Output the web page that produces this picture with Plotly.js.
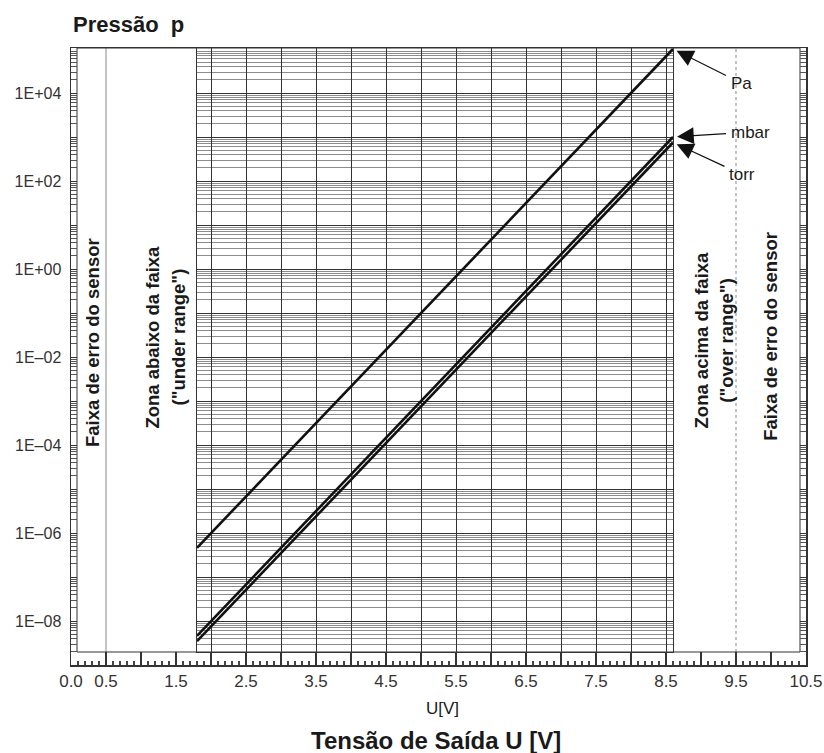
<!DOCTYPE html>
<html><head><meta charset="utf-8">
<script src="https://cdn.plot.ly/plotly-3.0.1.min.js"></script>
<style>html,body{margin:0;padding:0;background:#fff}</style>
</head><body><div id="chart" style="width:824px;height:753px"></div>
<script>
// ---- data ----
const voltage = [1.8, 8.6];
const pressurePa = [4.6e-7, 1.0e5];
const pressureMbar = [4.6e-9, 1.0e3];
const pressureTorr = [3.5e-9, 7.5e2];
const seriesNames = ['Pa', 'mbar', 'torr'];
const xTickVals = [0, 0.5, 1, 1.5, 2, 2.5, 3, 3.5, 4, 4.5, 5, 5.5, 6, 6.5, 7, 7.5, 8, 8.5, 9, 9.5, 10, 10.5];
const xTickText = ['0.0', '0.5', '', '1.5', '', '2.5', '', '3.5', '', '4.5', '', '5.5', '', '6.5', '', '7.5', '', '8.5', '', '9.5', '', '10.5'];
const yTickVals = [1e-9, 1e-8, 1e-7, 1e-6, 1e-5, 1e-4, 1e-3, 1e-2, 1e-1, 1e0, 1e1, 1e2, 1e3, 1e4, 1e5];
const yTickText = ['', '1E\u201308', '', '1E\u201306', '', '1E\u201304', '', '1E\u201302', '', '1E+00', '', '1E+02', '', '1E+04', ''];
const zoneBounds = [0, 0.5, 1.8, 8.6, 9.5, 10.5];
const gridXVals = [2, 2.5, 3, 3.5, 4, 4.5, 5, 5.5, 6, 6.5, 7, 7.5, 8, 8.5];
const zoneLabels = ['Faixa de erro do sensor', 'Zona abaixo da faixa', '("under range")',
                    'Zona acima da faixa', '("over range")', 'Faixa de erro do sensor'];

const FONT = 'Liberation Sans, Arial, Helvetica, sans-serif';
const INK = '#1a1a1a';

// frame geometry (pixels)
const PLOT_W = 735, PLOT_H = 617;        // 70 px per volt, 44 px per decade
const INNER_PX = 13;                     // inner frame above the x axis
const X_RANGE = [zoneBounds[0], zoneBounds[5]];
const Y_RANGE = [-9, -9 + PLOT_H / 44];
const span = X_RANGE[1] - X_RANGE[0];
const innerBottom = INNER_PX / PLOT_H;
const y2Low = Y_RANGE[0] + INNER_PX / 44;

const seriesY = [pressurePa, pressureMbar, pressureTorr];
const traces = seriesY.map((ys, i) => ({
  x: voltage, y: ys, name: seriesNames[i], type: 'scatter', mode: 'lines',
  xaxis: 'x2', yaxis: 'y2',
  line: {color: '#111', width: 2.6}, showlegend: false, hoverinfo: 'x+y+name', cliponaxis: false
}));

const shapes = [
  {type: 'line', xref: 'x', yref: 'y domain', x0: zoneBounds[1], x1: zoneBounds[1], y0: innerBottom, y1: 1,
   line: {color: '#8a8a8a', width: 1}, layer: 'below'},
  {type: 'line', xref: 'x', yref: 'y domain', x0: zoneBounds[4], x1: zoneBounds[4], y0: innerBottom, y1: 1,
   line: {color: '#8a8a8a', width: 1, dash: 'dot'}, layer: 'below'},
  {type: 'rect', xref: 'x domain', yref: 'y domain', x0: 6 / PLOT_W, x1: 1 - 6 / PLOT_W, y0: innerBottom, y1: 1,
   line: {color: '#333', width: 1}, fillcolor: 'rgba(0,0,0,0)', layer: 'below'}
];

const lastIdx = voltage.length - 1;
const arrowCommon = {xref: 'x2', yref: 'y2', showarrow: true, arrowhead: 2, arrowsize: 2.8,
  arrowwidth: 1.2, arrowcolor: '#111', standoff: 4, borderpad: 4,
  font: {family: FONT, size: 17, color: INK}};
const annotations = [
  Object.assign({}, arrowCommon, {text: seriesNames[0], x: voltage[lastIdx], y: Math.log10(pressurePa[lastIdx]), ax: 68, ay: 34}),
  Object.assign({}, arrowCommon, {text: seriesNames[1], x: voltage[lastIdx], y: Math.log10(pressureMbar[lastIdx]), ax: 77, ay: -5}),
  Object.assign({}, arrowCommon, {text: seriesNames[2], x: voltage[lastIdx], y: Math.log10(pressureTorr[lastIdx]), ax: 69, ay: 32})
];
const vLabelX = [0.31, 1.16, 1.53, 9.0, 9.36, 10.0];
const vLabelY = [0.523, 0.531, 0.531, 0.526, 0.526, 0.532];
zoneLabels.forEach((t, i) => annotations.push({
  text: t, xref: 'x', yref: 'paper', x: vLabelX[i], y: vLabelY[i], textangle: -90, showarrow: false,
  xanchor: 'center', yanchor: 'middle',
  font: {family: FONT, size: 18.5, color: INK, weight: 700}
}));
annotations.push({text: 'U[V]', xref: 'paper', yref: 'paper', x: 0.506, y: -0.07, showarrow: false,
  xanchor: 'center', yanchor: 'middle', font: {family: FONT, size: 17, color: INK}});
annotations.push({text: 'Tensão de Saída U [V]', xref: 'paper', yref: 'paper', x: 0.497, y: -0.123, showarrow: false,
  xanchor: 'center', yanchor: 'middle', font: {family: FONT, size: 24, color: INK, weight: 700}});

const layout = {
  width: 824, height: 753,
  margin: {l: 71, r: 824 - 71 - PLOT_W, t: 48, b: 753 - 48 - PLOT_H},
  paper_bgcolor: '#fff', plot_bgcolor: 'rgba(0,0,0,0)',
  font: {family: FONT, color: INK},
  title: {text: 'Pressão\u00a0\u00a0p', xref: 'container', yref: 'container', x: 73 / 824, xanchor: 'left',
          y: 1 - 24 / 753, yanchor: 'middle', font: {family: FONT, size: 22, color: INK, weight: 700}},
  xaxis: {
    range: X_RANGE, tickmode: 'array', tickvals: xTickVals, ticktext: xTickText,
    ticks: 'inside', ticklen: 13, tickwidth: 1.2, tickcolor: '#333',
    showline: true, linecolor: '#333', linewidth: 1.5, mirror: true,
    showgrid: false, zeroline: false,
    tickfont: {family: FONT, size: 17, color: '#333'},
    minor: {dtick: 0.1, tick0: 0, ticks: 'inside', ticklen: 4, tickcolor: '#444', showgrid: false}
  },
  yaxis: {
    type: 'log', range: Y_RANGE, tickmode: 'array', tickvals: yTickVals, ticktext: yTickText,
    ticks: 'inside', ticklen: 6, tickwidth: 1, tickcolor: '#333',
    showline: true, linecolor: '#333', linewidth: 1.5, mirror: 'ticks',
    showgrid: false, zeroline: false, ticklabelstandoff: 5,
    tickfont: {family: FONT, size: 16, color: '#333'},
    minor: {dtick: 'D1', ticks: 'inside', ticklen: 6, tickcolor: '#555', showgrid: false}
  },
  // grid only over the working range 1.8 .. 8.6 V
  xaxis2: {
    domain: [(zoneBounds[2] - X_RANGE[0]) / span, (zoneBounds[3] - X_RANGE[0]) / span],
    range: [zoneBounds[2], zoneBounds[3]], anchor: 'y2',
    tickmode: 'array', tickvals: gridXVals, showticklabels: false, ticks: '',
    showgrid: true, gridcolor: '#333', gridwidth: 1, zeroline: false,
    showline: true, linecolor: '#333', linewidth: 1.4, mirror: true
  },
  yaxis2: {
    type: 'log', domain: [innerBottom, 1], range: [y2Low, Y_RANGE[1]], anchor: 'x2',
    tickmode: 'array', tickvals: yTickVals, showticklabels: false, ticks: '',
    showgrid: true, gridcolor: '#333', gridwidth: 1, zeroline: false,
    showline: true, linecolor: '#333', linewidth: 1.4, mirror: true,
    minor: {dtick: 'D1', showgrid: true, gridcolor: '#8c8c8c', gridwidth: 1, ticks: ''}
  },
  shapes: shapes,
  annotations: annotations
};

Plotly.newPlot('chart', traces, layout, {displayModeBar: false, staticPlot: true});
</script></body></html>
